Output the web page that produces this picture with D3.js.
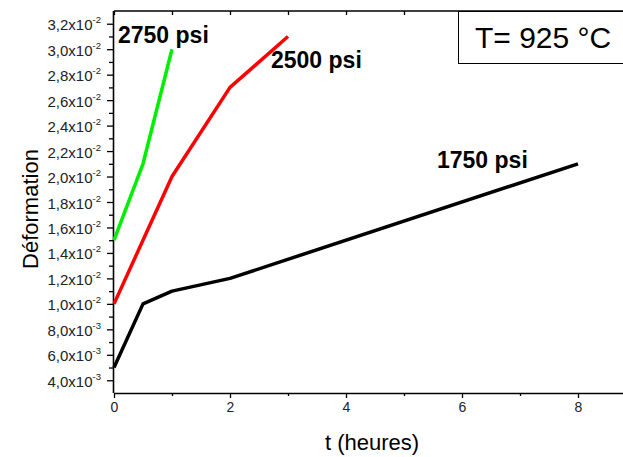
<!DOCTYPE html>
<html><head><meta charset="utf-8">
<script src="https://cdn.jsdelivr.net/npm/d3@7"></script>
<style>body{margin:0;background:#fff}svg{display:block;font-family:"Liberation Sans",Arial,sans-serif}</style>
</head><body><svg id="c" width="623" height="457"></svg>
<script>
const t1750 = [0, 0.5, 1, 2, 8];
const e1750 = [0.005, 0.010, 0.011, 0.012, 0.021];
const t2500 = [0, 1, 2, 3];
const e2500 = [0.010, 0.020, 0.027, 0.031];
const t2750 = [0, 0.5, 1];
const e2750 = [0.015, 0.021, 0.030];
const seriesNames = ["1750 psi", "2500 psi", "2750 psi"];
const xTicks = [0, 2, 4, 6, 8];
const yTicks = [0.004,0.006,0.008,0.010,0.012,0.014,0.016,0.018,0.020,0.022,0.024,0.026,0.028,0.030,0.032];
const yMant = ["4,0","6,0","8,0","1,0","1,2","1,4","1,6","1,8","2,0","2,2","2,4","2,6","2,8","3,0","3,2"];
const yExp = ["-3","-3","-3","-2","-2","-2","-2","-2","-2","-2","-2","-2","-2","-2","-2"];

const svg = d3.select("#c");
const L = 114, R = 636, T = 11, B = 393;
const x = d3.scaleLinear().domain([0, 9]).range([L, R]);
const y = d3.scaleLinear().domain([0.003, 0.033]).range([B, T]);

// frame top line
svg.append("line").attr("x1", L).attr("x2", 623).attr("y1", T).attr("y2", T).attr("stroke", "#000").attr("stroke-width", 1.3);
const topAx = svg.append("g").attr("transform", `translate(0,${T})`)
  .call(d3.axisTop(x).tickValues(d3.range(0, 9, 1)).tickSize(-4).tickFormat(""));
topAx.select(".domain").remove();
topAx.selectAll("line").attr("stroke-width", 1.3);

// bottom axis
const bx = svg.append("g").attr("transform", `translate(0,${B})`)
  .call(d3.axisBottom(x).tickValues(xTicks).tickSize(5).tickPadding(4).tickFormat(d3.format("d")));
bx.select(".domain").attr("d", `M${L},0.5H${R}`).attr("stroke-width", 1.6);
bx.selectAll("line").attr("stroke-width", 1.3);
bx.selectAll("text").attr("font-size", 14).attr("font-family", "Liberation Sans, Arial, sans-serif").attr("fill", "#222");
const bxm = svg.append("g").attr("transform", `translate(0,${B})`)
  .call(d3.axisBottom(x).tickValues([1,3,5,7]).tickSize(3).tickFormat(""));
bxm.select(".domain").remove();
bxm.selectAll("line").attr("stroke-width", 1.3);

// left axis
const ly = svg.append("g").attr("transform", `translate(${L},0)`)
  .call(d3.axisLeft(y).tickValues(yTicks).tickSize(7).tickFormat(""));
ly.select(".domain").attr("d", `M-0.5,${B}V${T}`).attr("stroke-width", 1.6);
ly.selectAll("line").attr("stroke-width", 1.3);
const lym = svg.append("g").attr("transform", `translate(${L},0)`)
  .call(d3.axisLeft(y).tickValues(d3.range(5, 33, 2).map(v => v / 1000)).tickSize(5).tickFormat(""));
lym.select(".domain").remove();
lym.selectAll("line").attr("stroke-width", 1.3);

// y tick labels with superscripts
const yl = svg.append("g");
yTicks.forEach((v, i) => {
  const tx = yl.append("text").attr("x", 101).attr("y", y(v) + 6.5).attr("text-anchor", "end")
    .attr("font-size", 15).attr("fill", "#222");
  tx.append("tspan").text(yMant[i] + "x10");
  tx.append("tspan").attr("dy", -7).attr("font-size", 9.5).text(yExp[i]);
});

// lines
const line = d3.line().x(d => x(d[0])).y(d => y(d[1]));
const data = [
  {t: t1750, e: e1750, c: "#000000"},
  {t: t2500, e: e2500, c: "#ff0000"},
  {t: t2750, e: e2750, c: "#00ee00"}
];
data.forEach(s => {
  svg.append("path").datum(s.t.map((t, i) => [t, s.e[i]]))
    .attr("d", line).attr("fill", "none").attr("stroke", s.c).attr("stroke-width", 3.5)
    .attr("stroke-linejoin", "round");
});

// series labels
const lab = [
  {n: seriesNames[2], x: 118, y: 43},
  {n: seriesNames[1], x: 271, y: 68},
  {n: seriesNames[0], x: 437, y: 168}
];
lab.forEach(l => svg.append("text").attr("x", l.x).attr("y", l.y).attr("font-size", 23)
  .attr("font-weight", "bold").text(l.n));

// temperature box
svg.append("rect").attr("x", 458.5).attr("y", 11.5).attr("width", 180).attr("height", 52)
  .attr("fill", "#fff").attr("stroke", "#000").attr("stroke-width", 1);
svg.append("text").attr("x", 475).attr("y", 48).attr("font-size", 30).text("T= 925 °C");

// axis titles
svg.append("text").attr("x", 372).attr("y", 450).attr("text-anchor", "middle").attr("font-size", 22).text("t (heures)");
svg.append("text").attr("transform", "translate(38,209) rotate(-90)").attr("text-anchor", "middle")
  .attr("font-size", 22).text("Déformation");
</script></body></html>
